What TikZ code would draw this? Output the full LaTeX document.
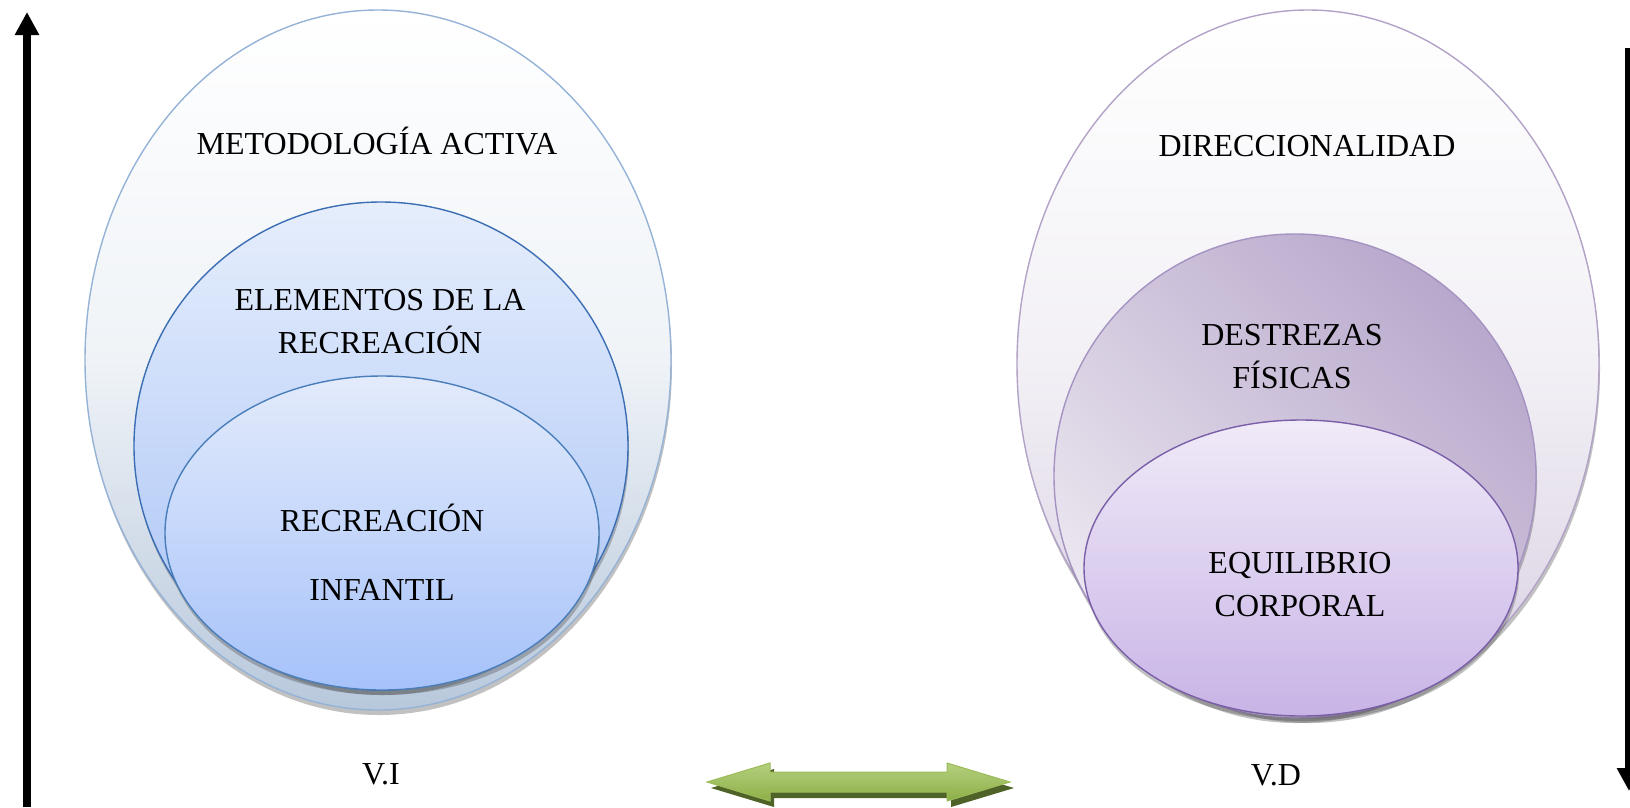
\documentclass[tikz,border=0pt]{standalone}
\usepackage{fontspec}
\setmainfont{Liberation Serif}
\usetikzlibrary{shapes.geometric,arrows.meta,shadows}
\definecolor{bOutLine}{HTML}{95B3D7}
\definecolor{bOutTop}{HTML}{FFFFFF}
\definecolor{bOutMid}{HTML}{EFF3F7}
\definecolor{bOutBot}{HTML}{B8C8DC}
\definecolor{bMidLine}{HTML}{3C6EB4}
\definecolor{bMidTop}{HTML}{E6EEFC}
\definecolor{bMidBot}{HTML}{A6C2F6}
\definecolor{bInLine}{HTML}{4A7EBB}
\definecolor{bInTop}{HTML}{E3EBFB}
\definecolor{bInBot}{HTML}{A6C2FA}
\definecolor{pOutLine}{HTML}{B3A2C7}
\definecolor{pOutTop}{HTML}{FFFFFF}
\definecolor{pOutMid}{HTML}{F2F0F5}
\definecolor{pOutBot}{HTML}{D8CEE2}
\definecolor{pMidLine}{HTML}{A593C2}
\definecolor{pMidA}{HTML}{B8A8CC}
\definecolor{pMidB}{HTML}{ECE8F0}
\definecolor{pInLine}{HTML}{7A5EA8}
\definecolor{pInTop}{HTML}{F0EAF8}
\definecolor{pInBot}{HTML}{C8B4E6}
\definecolor{gTop}{HTML}{B5D07E}
\definecolor{gBot}{HTML}{8CAF47}
\definecolor{gLine}{HTML}{9BBB59}
\definecolor{gShadow}{HTML}{4F6228}
\tikzset{
  oval/.style={ellipse, inner sep=0pt, line width=1.4pt},
  bshadow/.style={drop shadow={shadow xshift=1pt, shadow yshift=-5pt, opacity=.35, fill=black!70}},
  lbl/.style={font=\fontsize{32}{43}\selectfont, inner sep=0pt, align=center, anchor=base},
  axisarrow/.style={line width=8pt, -{Triangle[width=23pt,length=23pt]}},
  greenarrow/.style={draw=gLine, line width=1pt, top color=gTop, bottom color=gBot},
}
\begin{document}
\begin{tikzpicture}[x=1pt,y=-1pt]
\useasboundingbox (0,0) rectangle (1630,807);
% axis arrows
\coordinate (lb) at (27,807);
\coordinate (lt) at (27,12);
\draw[axisarrow] (lb) -- (lt);
\coordinate (rt) at (1629,48);
\coordinate (rb) at (1629,791);
\draw[axisarrow] (rt) -- (rb);
% left ellipses
\node[oval, bshadow, draw=bOutLine, top color=bOutTop, bottom color=bOutBot, middle color=bOutMid,
      minimum width=586pt, minimum height=700pt] (lout) at (378,360) {};
\node[oval, bshadow, draw=bMidLine, top color=bMidTop, bottom color=bMidBot,
      minimum width=494pt, minimum height=488pt] (lmid) at (381,446) {};
\node[oval, bshadow, draw=bInLine, top color=bInTop, bottom color=bInBot,
      minimum width=434pt, minimum height=314pt] (lin) at (382,533) {};
% right ellipses
\node[oval, bshadow, draw=pOutLine, top color=pOutTop, bottom color=pOutBot, middle color=pOutMid,
      minimum width=582pt, minimum height=708pt] (rout) at (1308,364) {};
\node[oval, bshadow, draw=pMidLine, top color=pMidA, bottom color=pMidB, shading angle=-45,
      minimum width=482pt, minimum height=484pt] (rmid) at (1295,476) {};
\node[oval, bshadow, draw=pInLine, top color=pInTop, bottom color=pInBot,
      minimum width=434pt, minimum height=296pt] (rin) at (1301,568) {};
% labels (anchor base = baseline of the last line)
\node[lbl] (t1) at (377,154) {METODOLOGÍA ACTIVA};
\node[lbl] (t2) at (380,353) {ELEMENTOS DE LA\\RECREACIÓN};
\node[lbl] (t3) at (382,600) {RECREACIÓN\\[26pt]INFANTIL};
\node[lbl] (t4) at (1307,156) {DIRECCIONALIDAD};
\node[lbl] (t5) at (1292,388) {DESTREZAS\\FÍSICAS};
\node[lbl] (t6) at (1300,616) {EQUILIBRIO\\CORPORAL};
\node[lbl] (vi) at (381,784) {V.I};
\node[lbl] (vd) at (1276,785) {V.D};
% green double arrow
\fill[gShadow] (711,788) -- (774,769) -- (774,778) -- (951,778) -- (951,769) -- (1014,788)
  -- (951,807) -- (951,798) -- (774,798) -- (774,807) -- cycle;
\path[greenarrow] (707,782) -- (770,763) -- (770,772) -- (947,772) -- (947,763) -- (1010,782)
  -- (947,801) -- (947,792) -- (770,792) -- (770,801) -- cycle;
\end{tikzpicture}
\end{document}
